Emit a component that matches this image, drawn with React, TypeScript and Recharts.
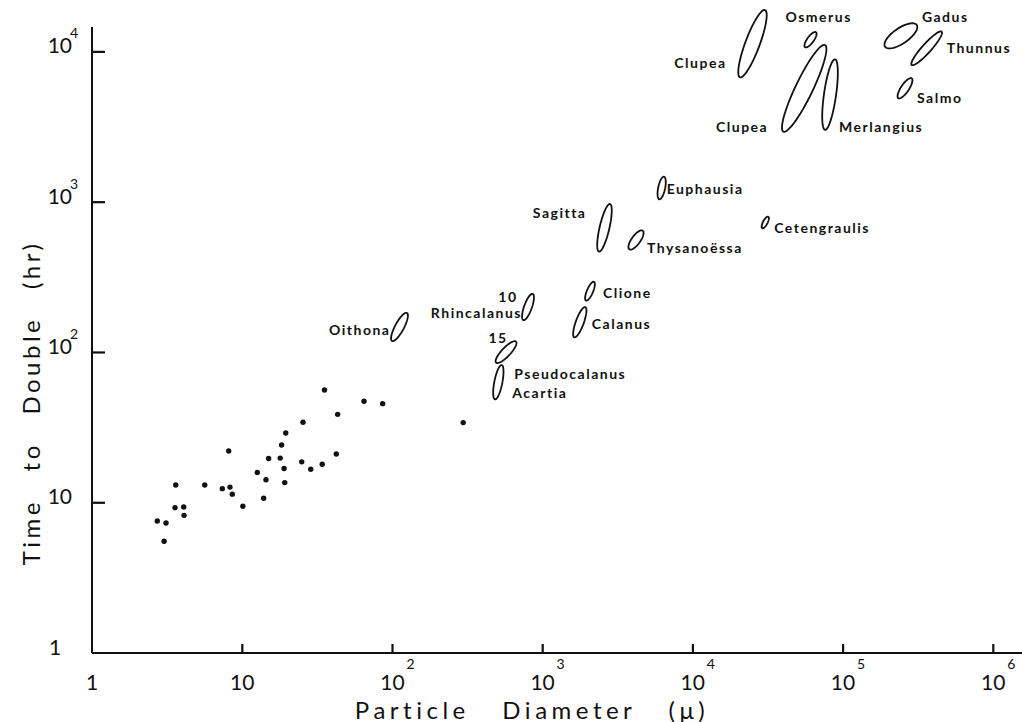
import { Label, ReferenceLine, Scatter, ScatterChart, XAxis, YAxis } from "recharts"

// small particles (dots): diameter in microns, doubling time in hours
const DIAMETERS = [35.3, 64.7, 86.1, 43.2, 25.4, 296, 19.5, 18.3, 8.13, 15.0, 17.9, 42.3, 24.9, 28.6, 34.1, 19.0, 12.6, 14.4, 19.2, 3.61, 5.63, 7.37, 8.29, 8.59, 13.9, 10.1, 3.57, 4.08, 4.1, 2.72, 3.11, 3.02]
const DOUBLING_HOURS = [56.2, 47.3, 45.6, 38.7, 34.3, 34.1, 29.1, 24.2, 22.1, 19.7, 19.8, 21.1, 18.7, 16.7, 18.0, 16.9, 15.9, 14.2, 13.6, 13.1, 13.1, 12.4, 12.7, 11.4, 10.7, 9.46, 9.26, 9.36, 8.24, 7.55, 7.33, 5.54]

// animal groups drawn as ellipses: lower and upper ends of each envelope
const GROUPS = ["Oithona", "Rhincalanus 10", "Rhincalanus 15", "Pseudocalanus / Acartia", "Sagitta", "Thysanoëssa", "Euphausia", "Cetengraulis", "Clione", "Calanus", "Clupea (upper)", "Osmerus", "Clupea (lower)", "Merlangius", "Gadus", "Thunnus", "Salmo"]
const DIAM_LOW = [99.4, 744, 490, 482, 2373, 3778, 5985, 29000, 1945, 1626, 20600, 55840, 40080, 75900, 190500, 286600, 233500]
const DIAM_HIGH = [125, 859, 665, 534, 2810, 4640, 6430, 31800, 2198, 1924, 30260, 66100, 75900, 88500, 309600, 454000, 286600]
const HOURS_LOW = [119, 164, 85.4, 48.7, 468, 485, 1044, 670, 221, 126, 6760, 10720, 2940, 3020, 10810, 8170, 4910]
const HOURS_HIGH = [183, 245, 118, 82.4, 971, 645, 1476, 800, 295, 200, 18970, 13490, 11100, 8910, 15080, 13610, 6660]
const WIDTH_RATIO = [0.28, 0.28, 0.3, 0.23, 0.2, 0.38, 0.3, 0.35, 0.3, 0.25, 0.2, 0.35, 0.18, 0.17, 0.4, 0.2, 0.33]

const LABEL_TEXT = ["Oithona", "Rhincalanus", "10", "15", "Pseudocalanus", "Acartia", "Sagitta", "Thysanoëssa", "Euphausia", "Cetengraulis", "Clione", "Calanus", "Clupea", "Osmerus", "Clupea", "Merlangius", "Gadus", "Thunnus", "Salmo"]
const LABEL_GROUP = [0, 1, 1, 2, 3, 3, 4, 5, 6, 7, 8, 9, 10, 11, 12, 13, 14, 15, 16]

const X_TICKS = [1, 10, 100, 1000, 10000, 100000, 1000000]
const X_TICK_BASE = ["1", "10", "10", "10", "10", "10", "10"]
const X_TICK_EXP = ["", "", "2", "3", "4", "5", "6"]
const Y_TICKS = [1, 10, 100, 1000, 10000]
const Y_TICK_BASE = ["1", "10", "10", "10", "10"]
const Y_TICK_EXP = ["", "", "2", "3", "4"]

// label placement relative to the ellipse centre (px): dx, dy, anchor
const LABEL_LAYOUT: [number, number, string][] = [
  [-9, 3, "end"],
  [-6, 6, "end"],
  [-20, -10, "middle"],
  [-8, -15, "middle"],
  [16, -9, "start"],
  [14, 10, "start"],
  [-18, -15, "end"],
  [11, 7, "start"],
  [5, 1, "start"],
  [9, 5, "start"],
  [13, 1, "start"],
  [12, 1, "start"],
  [-26, 19, "end"],
  [-25, -23, "start"],
  [-36, 38, "end"],
  [9, 32, "start"],
  [21, -19, "start"],
  [20, -1, "start"],
  [12, 9, "start"],
]

const FONT = "Lato, 'DejaVu Sans', sans-serif"
const INK = "#111"

const dots = DIAMETERS.map((d, i) => ({ d, h: DOUBLING_HOURS[i] }))
const xMarks = X_TICKS.slice(1).map((d) => ({ d, h: Y_TICKS[0] }))
const yMarks = Y_TICKS.slice(1).map((h) => ({ d: X_TICKS[0], h }))

// outline of an ellipse between two ends, worked out in log space
function outline(i: number) {
  const x1 = Math.log10(DIAM_LOW[i])
  const y1 = Math.log10(HOURS_LOW[i])
  const x2 = Math.log10(DIAM_HIGH[i])
  const y2 = Math.log10(HOURS_HIGH[i])
  const cx = (x1 + x2) / 2
  const cy = (y1 + y2) / 2
  const a = Math.hypot(x2 - x1, y2 - y1) / 2
  const b = a * WIDTH_RATIO[i]
  const th = Math.atan2(y2 - y1, x2 - x1)
  const pts = []
  for (let k = 0; k <= 60; k++) {
    const t = (k / 60) * Math.PI * 2
    const u = a * Math.cos(t)
    const v = b * Math.sin(t)
    pts.push({
      d: Math.pow(10, cx + u * Math.cos(th) - v * Math.sin(th)),
      h: Math.pow(10, cy + u * Math.sin(th) + v * Math.cos(th)),
    })
  }
  return pts
}

const labelPoints = LABEL_TEXT.map((text, i) => {
  const g = LABEL_GROUP[i]
  return {
    d: Math.sqrt(DIAM_LOW[g] * DIAM_HIGH[g]),
    h: Math.sqrt(HOURS_LOW[g] * HOURS_HIGH[g]),
    text,
    i,
  }
})

const XTick = (props: any) => {
  const { x, y, index } = props
  const exp = X_TICK_EXP[index]
  return (
    <g fontFamily={FONT} fill={INK}>
      <text x={x} y={y} textAnchor="middle" dominantBaseline="central" fontSize={21}>
        {X_TICK_BASE[index]}
      </text>
      {exp && (
        <text x={x + 14} y={y - 18} dominantBaseline="central" fontSize={14}>
          {exp}
        </text>
      )}
    </g>
  )
}

const YTick = (props: any) => {
  const { x, y, index } = props
  const exp = Y_TICK_EXP[index]
  const base = Y_TICK_BASE[index]
  return (
    <g fontFamily={FONT} fill={INK}>
      <text
        x={base === "1" ? x - 17 : x}
        y={y - 7}
        textAnchor={base === "1" ? "middle" : "end"}
        dominantBaseline="central"
        fontSize={21}
      >
        {base}
      </text>
      {exp && (
        <text x={x - 2} y={y - 19} dominantBaseline="central" fontSize={14}>
          {exp}
        </text>
      )}
    </g>
  )
}

// inward tick marks, drawn as thin rectangles
const XMark = (p: any) => <rect x={p.cx - 1} y={p.cy - 9} width={2.2} height={9} fill={INK} />
const YMark = (p: any) => <rect x={p.cx} y={p.cy - 1} width={13} height={2.2} fill={INK} />

const LabelMark = (props: any) => {
  const { cx, cy, payload } = props
  const [dx, dy, anchor] = LABEL_LAYOUT[payload.i]
  return (
    <text
      x={cx + dx}
      y={cy + dy}
      textAnchor={anchor as any}
      dominantBaseline="central"
      fontFamily={FONT}
      fontWeight={700}
      fontSize={14}
      letterSpacing={1.5}
      fill={INK}
    >
      {payload.text}
    </text>
  )
}

export default function App() {
  return (
    <div style={{ position: "absolute", left: 0, top: 0, background: "#fff" }}>
      <ScatterChart width={1022} height={722} margin={{ top: 5, right: 0, bottom: 0, left: 0 }}>
        <XAxis
          type="number"
          dataKey="d"
          scale="log"
          domain={[1, 1555000]}
          allowDataOverflow
          ticks={X_TICKS}
          interval={0}
          height={69}
          axisLine={{ stroke: INK, strokeWidth: 2 }}
          tickLine={false}
          tickSize={0}
          tickMargin={28}
          tick={<XTick />}
        >
          <Label
            content={() => (
              <text
                x={532}
                y={709}
                textAnchor="middle"
                dominantBaseline="central"
                fontFamily={FONT}
                fontSize={24}
                letterSpacing={4.5}
                wordSpacing={22}
                fill={INK}
              >
                Particle Diameter (μ)
              </text>
            )}
          />
        </XAxis>
        <YAxis
          type="number"
          dataKey="h"
          scale="log"
          domain={[1, 20470]}
          allowDataOverflow
          ticks={Y_TICKS}
          interval={0}
          width={92}
          axisLine={false}
          tickLine={false}
          tickSize={0}
          tickMargin={20}
          tick={<YTick />}
        >
          <Label
            content={() => (
              <text
                x={30}
                y={403}
                transform="rotate(-90 30 403)"
                textAnchor="middle"
                dominantBaseline="central"
                fontFamily={FONT}
                fontSize={24}
                letterSpacing={3.5}
                wordSpacing={18}
                fill={INK}
              >
                Time to Double (hr)
              </text>
            )}
          />
        </YAxis>
        <ReferenceLine
          segment={[
            { x: 1, y: 1 },
            { x: 1, y: 14620 },
          ]}
          stroke={INK}
          strokeWidth={2}
        />
        <Scatter data={xMarks} isAnimationActive={false} shape={XMark} />
        <Scatter data={yMarks} isAnimationActive={false} shape={YMark} />
        <Scatter
          data={dots}
          isAnimationActive={false}
          shape={(p: any) => <circle cx={p.cx} cy={p.cy} r={2.7} fill={INK} />}
        />
        {GROUPS.map((name, i) => (
          <Scatter
            key={name}
            name={name}
            data={outline(i)}
            fill={INK}
            line={{ stroke: INK, strokeWidth: 1.8 }}
            lineType="joint"
            isAnimationActive={false}
            shape={() => <g />}
          />
        ))}
        <Scatter data={labelPoints} isAnimationActive={false} shape={<LabelMark />} />
      </ScatterChart>
    </div>
  )
}
